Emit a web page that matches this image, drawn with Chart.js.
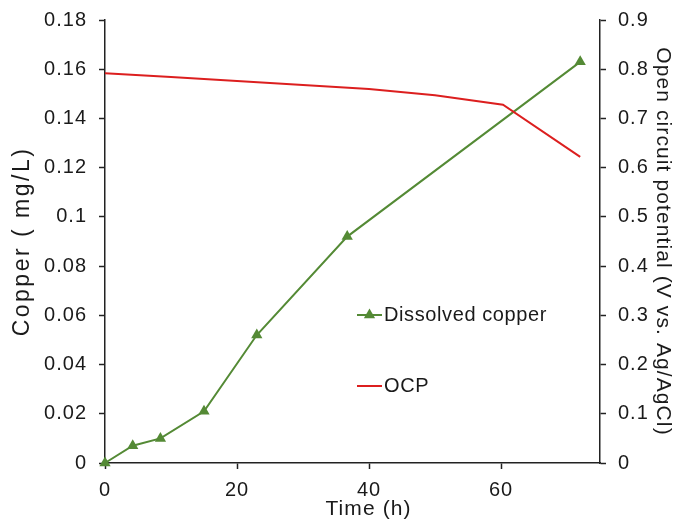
<!DOCTYPE html>
<html>
<head>
<meta charset="utf-8">
<script src="https://cdn.jsdelivr.net/npm/chart.js@4/dist/chart.umd.min.js"></script>
<style>
  html, body { margin: 0; padding: 0; background: #fff; }
  #c { display: block; }
</style>
</head>
<body>
<canvas id="c" width="681" height="522"></canvas>
<script>
// ---- data ----
const copperTime = [0, 4.2, 8.4, 15, 23, 36.7, 72];
const copperValues = [0, 0.007, 0.010, 0.021, 0.052, 0.092, 0.163];
const ocpTime = [0, 10, 20, 30, 40, 50, 60.3, 72];
const ocpValues = [0.792, 0.784, 0.776, 0.768, 0.760, 0.747, 0.728, 0.622];
const xTicks = [0, 20, 40, 60];
const leftTicks = [0, 0.02, 0.04, 0.06, 0.08, 0.1, 0.12, 0.14, 0.16, 0.18];
const rightTicks = [0, 0.1, 0.2, 0.3, 0.4, 0.5, 0.6, 0.7, 0.8, 0.9];
const seriesNames = ['Dissolved copper', 'OCP'];

const GREEN = '#548a35';
const RED = '#dc1f1f';
const TEXT = '#1a1a1a';
const FONT = "'Liberation Sans', Arial, sans-serif";

const copperPts = copperTime.map((t, i) => ({ x: t, y: copperValues[i] }));
const ocpPts = ocpTime.map((t, i) => ({ x: t, y: ocpValues[i] }));

// letter spacing (and small offset) to match the lettering of the reference
const titleStyle = {
  x: { spacing: '1.1px', dx: 16 },
  y: { spacing: '2.5px', dx: 0 },
  y2: { spacing: '1.1px', dx: 0 }
};
const spacingPlugin = {
  id: 'spacing',
  beforeLayout(chart) { chart.ctx.letterSpacing = '1px'; },
  afterLayout(chart) {
    for (const id in titleStyle) {
      const s = chart.scales[id];
      if (!s || s._wrappedTitle) continue;
      const orig = s.drawTitle.bind(s);
      s.drawTitle = function () {
        const c = chart.ctx;
        c.save();
        c.letterSpacing = titleStyle[id].spacing;
        c.translate(titleStyle[id].dx, 0);
        orig();
        c.restore();
      };
      s._wrappedTitle = true;
    }
  },
  beforeDraw(chart) { chart.ctx.letterSpacing = '1px'; }
};

const legendPlugin = {
  id: 'inLegend',
  afterDraw(chart) {
    const ctx = chart.ctx;
    const a = chart.chartArea;
    const x0 = a.left + 252, x1 = a.left + 277, tx = a.left + 279;
    const rows = [a.top + 295, a.top + 366];
    ctx.save();
    ctx.letterSpacing = '0.6px';
    ctx.font = '20px ' + FONT;
    ctx.textBaseline = 'middle';
    // row 1
    ctx.strokeStyle = GREEN; ctx.lineWidth = 2;
    ctx.beginPath(); ctx.moveTo(x0, rows[0]); ctx.lineTo(x1, rows[0]); ctx.stroke();
    const cx = (x0 + x1) / 2, r = 6.5;
    ctx.fillStyle = GREEN;
    ctx.beginPath();
    ctx.moveTo(cx, rows[0] - r);
    ctx.lineTo(cx + r * Math.sin(2 * Math.PI / 3), rows[0] + r / 2);
    ctx.lineTo(cx - r * Math.sin(2 * Math.PI / 3), rows[0] + r / 2);
    ctx.closePath(); ctx.fill();
    ctx.fillStyle = TEXT;
    ctx.fillText(seriesNames[0], tx, rows[0]);
    // row 2
    ctx.strokeStyle = RED; ctx.lineWidth = 2;
    ctx.beginPath(); ctx.moveTo(x0, rows[1]); ctx.lineTo(x1, rows[1]); ctx.stroke();
    ctx.fillText(seriesNames[1], tx, rows[1]);
    ctx.restore();
  }
};

const tickFont = { family: FONT, size: 20 };
const titleFont = { family: FONT, size: 21 };
const gridOpts = { display: true, drawOnChartArea: false, tickLength: 6, tickColor: '#222', tickWidth: 1.5 };
const borderOpts = { display: true, color: '#222', width: 1.5 };

new Chart(document.getElementById('c'), {
  type: 'scatter',
  data: {
    datasets: [
      {
        label: seriesNames[1], data: ocpPts, yAxisID: 'y2', showLine: true,
        borderColor: RED, borderWidth: 2, pointRadius: 0, tension: 0, clip: false
      },
      {
        label: seriesNames[0], data: copperPts, yAxisID: 'y', showLine: true,
        borderColor: GREEN, backgroundColor: GREEN, borderWidth: 2,
        pointStyle: 'triangle', pointRadius: 6.5, pointBorderWidth: 0, tension: 0, clip: false
      }
    ]
  },
  options: {
    responsive: false,
    animation: false,
    layout: { padding: { top: 20, left: 0, right: 0, bottom: 0 } },
    plugins: { legend: { display: false }, tooltip: { enabled: false } },
    scales: {
      x: {
        type: 'linear', min: 0, max: 75,
        afterBuildTicks: s => { s.ticks = xTicks.map(v => ({ value: v })); },
        afterFit: s => { s.height = 59; s.paddingLeft = 0; s.paddingRight = 0; },
        grid: gridOpts, border: borderOpts,
        ticks: { font: tickFont, color: TEXT, padding: 9, maxRotation: 0 },
        title: { display: true, text: 'Time (h)', font: titleFont, color: TEXT, padding: { top: 0, bottom: 0 } }
      },
      y: {
        position: 'left', min: 0, max: 0.18,
        afterBuildTicks: s => { s.ticks = leftTicks.map(v => ({ value: v })); },
        afterFit: s => { s.width = 105; s.paddingTop = 0; s.paddingBottom = 0; },
        grid: gridOpts, border: borderOpts,
        ticks: { font: tickFont, color: TEXT, padding: 12, callback: v => String(+v.toFixed(2)) },
        title: { display: true, text: 'Copper ( mg/L)', font: { family: FONT, size: 23 }, color: TEXT, padding: { top: 9, bottom: 0 } }
      },
      y2: {
        position: 'right', min: 0, max: 0.9,
        afterBuildTicks: s => { s.ticks = rightTicks.map(v => ({ value: v })); },
        afterFit: s => { s.width = 81; s.paddingTop = 0; s.paddingBottom = 0; },
        grid: gridOpts, border: borderOpts,
        ticks: { font: tickFont, color: TEXT, padding: 12, callback: v => String(+v.toFixed(1)) },
        title: { display: true, text: 'Open circuit potential (V vs. Ag/AgCl)', font: titleFont, color: TEXT, padding: { top: 6, bottom: 0 } }
      }
    }
  },
  plugins: [spacingPlugin, legendPlugin]
});
</script>
</body>
</html>
